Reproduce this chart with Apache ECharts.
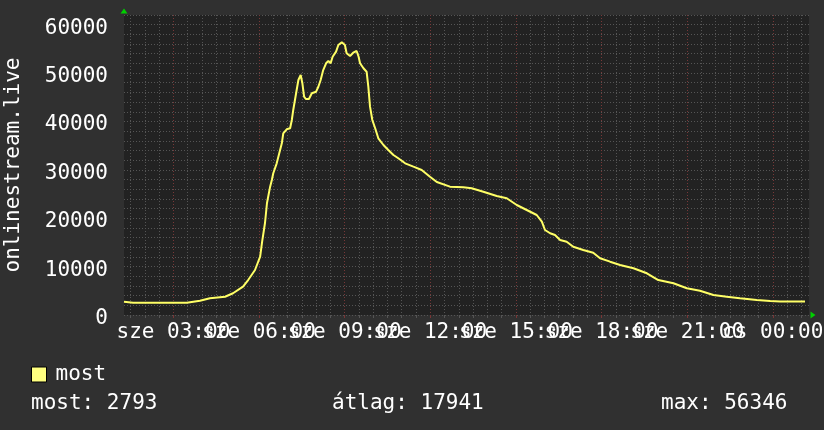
<!DOCTYPE html>
<html><head><meta charset="utf-8">
<script src="https://cdn.jsdelivr.net/npm/echarts@6/dist/echarts.min.js"></script>
<style>html,body{margin:0;padding:0;background:#303030}#c{width:824px;height:430px}</style>
</head><body><div id="c"></div>
<script>
// time in hours since "sze" 00:00 (values above 24 are the next day, "cs")
const hours = [1.27,1.59,3.47,3.93,4.28,4.81,5.09,5.44,5.62,5.86,6.04,6.11,6.21,6.28,6.39,6.45,6.50,6.62,6.71,6.80,6.85,6.97,7.09,7.15,7.20,7.30,7.38,7.46,7.52,7.58,7.64,7.75,7.85,8.00,8.08,8.16,8.25,8.35,8.43,8.51,8.58,8.70,8.78,8.90,9.01,9.07,9.19,9.30,9.42,9.49,9.54,9.66,9.77,9.83,9.89,9.97,10.07,10.18,10.36,10.53,10.71,10.88,11.12,11.41,11.70,11.99,12.23,12.69,13.16,13.45,13.86,14.33,14.68,15.03,15.38,15.73,15.91,16.02,16.20,16.37,16.55,16.78,17.01,17.36,17.71,17.95,18.30,18.65,19.12,19.59,19.99,20.52,20.99,21.45,21.92,22.39,22.85,23.44,23.91,24.26,25.13];
const viewers = [2750,2540,2540,2950,3450,3780,4490,5850,7230,9300,12050,15150,19010,23150,26520,27900,29290,31350,33420,35490,37550,38380,38590,40300,42370,45820,48570,49600,47890,45120,44640,44640,45820,46150,47180,48570,50630,52020,52490,52020,53380,54420,55800,56346,55800,54090,53530,54210,54560,53380,52020,50990,50280,47180,43050,40300,38590,36520,35130,34100,33070,32390,31350,30650,29970,28580,27490,26520,26390,26190,25480,24590,24120,22730,21700,20670,19280,17570,16890,16530,15500,15150,14120,13430,12880,11720,11020,10330,9650,8620,7230,6550,5520,5020,4130,3780,3450,3100,2890,2790,2793];
const seriesName = 'most';
const axisTitle = 'onlinestream.live';
const dayNames = ['sze', 'cs'];
const labelHoursA = [3, 9, 15, 21];
const labelHoursB = [6, 12, 18, 24];
const yLabelValues = [0, 10000, 20000, 30000, 40000, 50000, 60000];
const statLabels = ['most', 'átlag', 'max'];
const statValues = [2793, 17941, 56346];

const X_MIN = 1.27, X_MAX = 25.27, Y_MAX = 62000;
const FONT = 'DejaVu Sans Mono';
const minorX = [], majorX = [];
for (let h = 1.5; h < X_MAX; h += 0.5) minorX.push(h);
for (let h = 3; h < X_MAX; h += 3) majorX.push(h);

const pad2 = n => (n < 10 ? '0' : '') + n;
const fmtX = v => {
  const d = v >= 24 ? 1 : 0;
  const h = Math.round(v) % 24;
  return dayNames[d] + ' ' + pad2(h) + ':00';
};

const chart = echarts.init(document.getElementById('c'), null, {renderer: 'canvas'});
const txt = {color: '#ffffff', fontFamily: FONT, fontSize: 21};
const statLeft = [31, 332, 661];
const xLabel = vals => Object.assign({show: true, customValues: vals, margin: 7, formatter: fmtX,
                                      showMinLabel: true, showMaxLabel: true, hideOverlap: false}, txt);

chart.setOption({
  backgroundColor: '#303030',
  animation: false,
  title: statLabels.map((l, i) => ({
    text: l + ': ' + statValues[i],
    left: statLeft[i], top: 393, padding: 0,
    textStyle: Object.assign({fontWeight: 'normal'}, txt)
  })),
  legend: {
    left: 31, top: 364, padding: 0,
    itemWidth: 15, itemHeight: 15, icon: 'rect',
    textStyle: Object.assign({padding: [4, 0, 0, 4]}, txt),
    data: [{name: seriesName, itemStyle: {color: '#ffff80', borderColor: '#000000', borderWidth: 1}}]
  },
  grid: {left: 124, right: 15, top: 15, bottom: 115, show: true, backgroundColor: '#222222', borderWidth: 0, outerBoundsMode: 'none'},
  xAxis: [
    {type: 'value', min: X_MIN, max: X_MAX, position: 'bottom',
     axisLine: {show: false},
     axisTick: {show: true, customValues: minorX, length: 3, lineStyle: {color: '#555555'}},
     axisLabel: {show: false},
     splitLine: {show: true, lineStyle: {color: '#555555', type: [1, 2], width: 1}}},
    {type: 'value', min: X_MIN, max: X_MAX, position: 'bottom',
     axisLine: {show: false},
     axisTick: {show: true, customValues: majorX, length: 3, lineStyle: {color: '#7a3535'}},
     axisLabel: xLabel(labelHoursA),
     splitLine: {show: true, lineStyle: {color: '#773838', type: [1, 2], width: 1}}},
    {type: 'value', min: X_MIN, max: X_MAX, position: 'bottom',
     axisLine: {show: true, symbol: ['none', 'triangle'], symbolSize: [7, 5], symbolOffset: [0, 4],
                lineStyle: {color: '#00d000', opacity: 0}},
     axisTick: {show: false}, axisLabel: xLabel(labelHoursB), splitLine: {show: false}}
  ],
  yAxis: [
    {type: 'value', min: 0, max: Y_MAX, interval: 10000, position: 'left',
     name: axisTitle, nameLocation: 'middle', nameRotate: 90, nameGap: 100,
     nameTextStyle: txt,
     axisLine: {show: false}, axisTick: {show: false},
     axisLabel: Object.assign({margin: 16, verticalAlign: 'top', lineHeight: 7, showMinLabel: true, showMaxLabel: true,
                               formatter: v => (yLabelValues.indexOf(v) >= 0 ? String(v) : '')}, txt),
     splitLine: {show: true, lineStyle: {color: ['#773838', '#773838', '#773838', '#773838', '#773838', '#773838', '#773838', 'rgba(0,0,0,0)'], type: [1, 2], width: 1}}},
    {type: 'value', min: 0, max: Y_MAX, interval: 2000, position: 'left',
     axisLine: {show: false}, axisTick: {show: false}, axisLabel: {show: false},
     splitLine: {show: true, lineStyle: {color: '#555555', type: [1, 2], width: 1}}},
    {type: 'value', min: 0, max: Y_MAX, position: 'left',
     axisLine: {show: true, symbol: ['none', 'triangle'], symbolSize: [7, 5], symbolOffset: [0, 4],
                lineStyle: {color: '#00d000', opacity: 0}},
     axisTick: {show: false}, axisLabel: {show: false}, splitLine: {show: false}}
  ],
  series: [{
    name: seriesName, type: 'line', xAxisIndex: 0, yAxisIndex: 0,
    data: hours.map((h, i) => [h, viewers[i]]),
    showSymbol: false, symbol: 'none',
    lineStyle: {color: '#ffff66', width: 2},
    itemStyle: {color: '#ffff80'},
    z: 5
  }]
});
</script></body></html>
